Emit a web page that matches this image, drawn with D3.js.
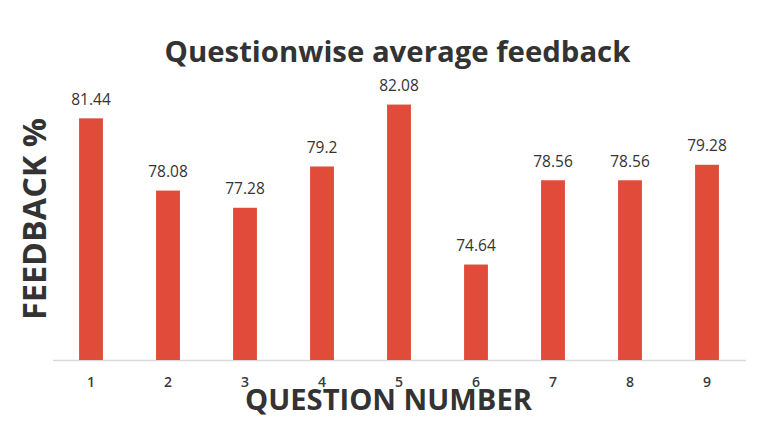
<!DOCTYPE html>
<html>
<head>
<meta charset="utf-8">
<script src="https://cdn.jsdelivr.net/npm/d3@7"></script>
<style>
  html, body { margin: 0; padding: 0; background: #ffffff; }
  svg { display: block; }
  text { font-family: "Open Sans", "Noto Sans", sans-serif; }
</style>
</head>
<body>
<svg id="chart" width="764" height="423"></svg>
<script>
const categories = ["1", "2", "3", "4", "5", "6", "7", "8", "9"];
const values = [81.44, 78.08, 77.28, 79.2, 82.08, 74.64, 78.56, 78.56, 79.28];
const titleText = "Questionwise average feedback";
const xTitleText = "QUESTION NUMBER";
const yTitleText = "FEEDBACK %";

const svg = d3.select("#chart");
svg.append("rect").attr("width", 764).attr("height", 423).attr("fill", "#ffffff");

const x = d3.scaleBand()
  .domain(categories)
  .range([52.5, 745.5])
  .paddingInner(0.69)
  .paddingOuter(0.345);

const y = d3.scaleLinear()
  .domain([70.2, 84])
  .range([360, 63.3]);

function fit(sel, targetWidth, baseSize) {
  sel.style("font-size", baseSize + "px");
  const w = sel.node().getComputedTextLength();
  sel.style("font-size", (baseSize * targetWidth / w).toFixed(2) + "px");
}

// x axis
const xAxis = svg.append("g")
  .attr("transform", `translate(0,${y.range()[0]})`)
  .call(d3.axisBottom(x).tickSize(0).tickPadding(17));
xAxis.select(".domain").attr("stroke", "#d9d9d9").attr("stroke-width", 1.5);
xAxis.selectAll("text")
  .style("font-family", "'Open Sans', sans-serif")
  .style("font-size", "14px")
  .style("font-weight", "600")
  .attr("fill", "#3a3a3a");

// bars
svg.append("g").selectAll("rect")
  .data(values)
  .join("rect")
  .attr("x", (d, i) => x(categories[i]))
  .attr("width", x.bandwidth())
  .attr("y", d => y(d))
  .attr("height", d => y.range()[0] - y(d))
  .attr("fill", "#e04b3a");

// value labels
svg.append("g").selectAll("text")
  .data(values)
  .join("text")
  .attr("x", (d, i) => x(categories[i]) + x.bandwidth() / 2)
  .attr("y", d => y(d) - 13.5)
  .attr("text-anchor", "middle")
  .style("font-size", "15.5px")
  .style("font-weight", "500")
  .attr("fill", "#333333")
  .text(d => String(d));

// title
const title = svg.append("text")
  .attr("x", 397.5)
  .attr("y", 62)
  .attr("text-anchor", "middle")
  .style("font-weight", "700")
  .attr("fill", "#333333")
  .text(titleText);
fit(title, 466, 28);

// x title
const xt = svg.append("text")
  .attr("x", 388.5)
  .attr("y", 410)
  .attr("text-anchor", "middle")
  .style("font-weight", "700")
  .attr("fill", "#333333")
  .text(xTitleText);
fit(xt, 287, 28);

// y title
const yt = svg.append("text")
  .attr("transform", "translate(46,219) rotate(-90)")
  .attr("text-anchor", "middle")
  .style("font-weight", "700")
  .attr("fill", "#333333")
  .text(yTitleText);
fit(yt, 202, 26);
</script>
</body>
</html>
